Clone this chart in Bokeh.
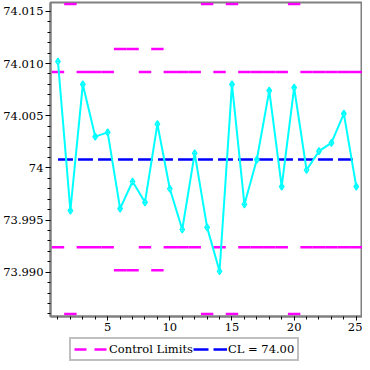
from bokeh.plotting import figure
from bokeh.layouts import column
from bokeh.models import (Range1d, FixedTicker, CustomJSTickFormatter, Legend, LegendItem,
                          ColumnDataSource)
from bokeh.embed import file_html
from bokeh.resources import INLINE

# ---- data ----
samples = list(range(1, 26))
xbar = [74.0102, 73.9959, 74.0080, 74.0030, 74.0034, 73.9961, 73.9987, 73.9967, 74.0042,
        73.9980, 73.9941, 74.0014, 73.9943, 73.9901, 74.0080, 73.9965, 74.0008, 74.0074,
        73.9982, 74.0077, 73.9998, 74.0016, 74.0024, 74.0052, 73.9982]
center = 74.0008
ucl = [74.0092, 74.0157, 74.0092, 74.0092, 74.0092, 74.0114, 74.0114, 74.0092, 74.0114,
       74.0092, 74.0092, 74.0092, 74.0157, 74.0092, 74.0157, 74.0092, 74.0092, 74.0092,
       74.0092, 74.0157, 74.0092, 74.0092, 74.0092, 74.0092, 74.0092]
lcl = [73.9924, 73.9860, 73.9924, 73.9924, 73.9924, 73.9902, 73.9902, 73.9924, 73.9902,
       73.9924, 73.9924, 73.9924, 73.9860, 73.9924, 73.9860, 73.9924, 73.9924, 73.9924,
       73.9924, 73.9860, 73.9924, 73.9924, 73.9924, 73.9924, 73.9924]
y_ticks = [73.990, 73.995, 74.000, 74.005, 74.010, 74.015]
x_ticks = [5, 10, 15, 20, 25]
legend_labels = ["Control Limits", "CL = 74.00"]

FONT = "'DejaVu Serif', serif"
FS = "11.5px"
GRAY = "#808080"
MAG = "#FF00FF"
BLUE = "#0000FF"
CYAN = "#00FFFF"

p = figure(width=362, height=337, output_backend="svg", toolbar_location=None,
           x_range=Range1d(0.4, 25.5), y_range=Range1d(73.98576, 74.01585),
           min_border_left=0, min_border_right=0, min_border_top=2, min_border_bottom=21)
p.grid.visible = False
p.outline_line_color = GRAY
p.outline_line_width = 2

# control limits (one segment per sample)
lim_src = ColumnDataSource(dict(
    x0=[s - 0.5 for s in samples] * 2,
    x1=[s + 0.5 for s in samples] * 2,
    y=ucl + lcl,
))
p.segment(x0="x0", y0="y", x1="x1", y1="y", source=lim_src, line_color=MAG, line_width=2.5)

# center line
p.line(x=[samples[0], samples[-1]], y=[center, center], line_color=BLUE,
       line_width=2.5, line_dash="15 5")

# data
p.line(x=samples, y=xbar, line_color=CYAN, line_width=2)
p.scatter(x=samples, y=xbar, marker="diamond_cross", size=7, line_color=CYAN,
          fill_color="white", line_width=1.2)

for ax in (p.xaxis[0], p.yaxis[0]):
    ax.axis_line_color = GRAY
    ax.axis_line_width = 2
    ax.major_tick_line_color = "black"
    ax.minor_tick_line_color = "black"
    ax.major_tick_in = 0
    ax.minor_tick_in = 0
    ax.major_label_text_font = FONT
    ax.major_label_text_font_size = FS
    ax.major_label_text_color = "black"
    ax.major_label_standoff = 2

p.yaxis.ticker = FixedTicker(ticks=y_ticks,
                             minor_ticks=[round(73.986 + 0.001 * i, 3) for i in range(30)])
p.yaxis.formatter = CustomJSTickFormatter(
    code="return Math.abs(tick - 74) < 1e-9 ? '74' : tick.toFixed(3);")
p.yaxis.major_tick_out = 5
p.yaxis.minor_tick_out = 3

p.xaxis.ticker = FixedTicker(ticks=x_ticks, minor_ticks=list(range(1, 26)))
p.xaxis.major_tick_out = 4
p.xaxis.minor_tick_out = 3

# ---- legend strip below the chart ----
lg = figure(width=362, height=25, output_backend="svg", toolbar_location=None,
            x_range=Range1d(0, 1), y_range=Range1d(0, 1),
            x_axis_location=None, y_axis_location=None,
            min_border_left=0, min_border_right=0, min_border_top=0, min_border_bottom=0)
lg.grid.visible = False
lg.outline_line_color = None
# sample lines kept outside the visible range: they only supply the legend glyphs
r_lim = lg.line(x=[-3, -2], y=[-3, -3], line_color=MAG, line_width=2.5, line_dash="12 8")
r_cl = lg.line(x=[-3, -2], y=[-3, -3], line_color=BLUE, line_width=2.5, line_dash="15 5")
legend = Legend(items=[LegendItem(label=legend_labels[0], renderers=[r_lim]),
                       LegendItem(label=legend_labels[1], renderers=[r_cl])],
                orientation="horizontal", location=(19, 1),
                label_text_font=FONT, label_text_font_size=FS, label_text_color="black",
                glyph_width=34, glyph_height=12, label_standoff=1, spacing=0,
                padding=3, margin=0, border_line_color=GRAY, border_line_width=2,
                label_height=14, background_fill_color="white")
lg.add_layout(legend)

layout = column(p, lg, spacing=0)
open("out.html", "w").write(file_html(layout, INLINE))
